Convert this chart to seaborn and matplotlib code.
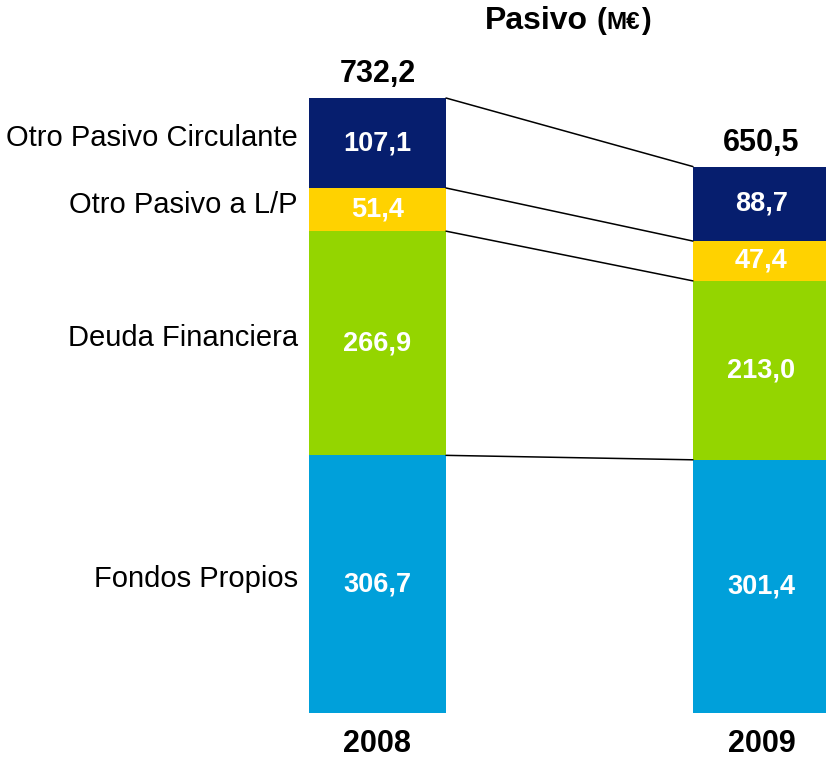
import numpy as np
import pandas as pd
import seaborn as sns
import matplotlib.pyplot as plt

# data (M€)
years = ['2008', '2009']
segments = ['Fondos Propios', 'Deuda Financiera', 'Otro Pasivo a L/P', 'Otro Pasivo Circulante']
fondos_propios = [306.7, 301.4]
deuda_financiera = [266.9, 213.0]
otro_pasivo_lp = [51.4, 47.4]
otro_pasivo_circ = [107.1, 88.7]
totals = [732.2, 650.5]
value_labels = [['306,7', '301,4'], ['266,9', '213,0'], ['51,4', '47,4'], ['107,1', '88,7']]
total_labels = ['732,2', '650,5']

colors = ['#00A0DA', '#94D500', '#FFD200', '#061E6E']

sns.set_theme(style='white')
plt.rcParams['font.family'] = ['Liberation Sans', 'DejaVu Sans']
plt.rcParams['text.color'] = 'black'

values = np.array([fondos_propios, deuda_financiera, otro_pasivo_lp, otro_pasivo_circ])
cum = values.cumsum(axis=0)

fig = plt.figure(figsize=(8.26, 7.59), dpi=100)
ax = fig.add_axes([0, 0, 1, 1])

w = 0.357
# stacked bars: draw cumulative heights from the top layer down
for i in range(len(segments) - 1, -1, -1):
    df = pd.DataFrame({'year': years, 'value': cum[i]})
    sns.barplot(data=df, x='year', y='value', color=colors[i], saturation=1,
                width=w, linewidth=0, errorbar=None, ax=ax)

ax.set_xlim(-0.983, 1.168)
ax.set_ylim(-54.8, 848.8)
ax.axis('off')

# connecting lines between segment tops
for i in range(len(segments)):
    ax.plot([w / 2, 1 - w / 2], [cum[i][0], cum[i][1]], color='black', lw=1.1, zorder=3)

# values inside segments
for i in range(len(segments)):
    for j in range(len(years)):
        mid = cum[i][j] - values[i][j] / 2
        ax.text(j, mid, value_labels[i][j], ha='center', va='center',
                color='white', fontsize=19.5, fontweight='bold')

# segment names on the left
for i, name in enumerate(segments):
    mid = cum[i][0] - values[i][0] / 2
    ax.annotate(name, xy=(-w / 2, mid), xytext=(-8, 3.5), textcoords='offset points',
                ha='right', va='center', fontsize=21, color='black')

# totals and years
for j in range(len(years)):
    ax.annotate(total_labels[j], xy=(j, totals[j]), xytext=(0, 17), textcoords='offset points',
                ha='center', va='center', fontsize=22, fontweight='bold', color='black')
    ax.annotate(years[j], xy=(j, 0), xytext=(0, -22.5), textcoords='offset points',
                ha='center', va='center', fontsize=22, fontweight='bold', color='black')

# title: pieces chained left to right on a common baseline
base = 1 - 29 / 759
prev = fig.text(588 / 826, base, 'Pasivo', ha='right', va='baseline',
                fontsize=23, fontweight='bold', color='black')
for piece, size, gap in [('(', 21, 8), ('M€', 17.5, 1), (')', 21, 1)]:
    prev = ax.annotate(piece, xy=(1, base), xycoords=(prev, 'figure fraction'),
                       xytext=(gap * 0.72, 0), textcoords='offset points',
                       ha='left', va='baseline', fontsize=size, fontweight='bold',
                       color='black', annotation_clip=False)

fig.savefig('out.png', dpi=100)
